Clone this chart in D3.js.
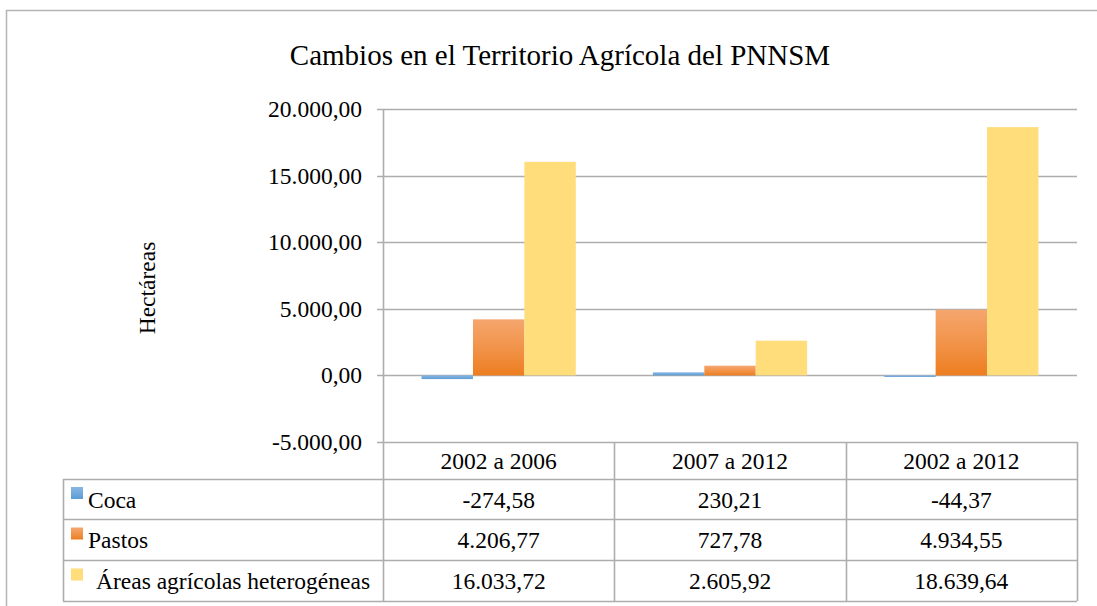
<!DOCTYPE html>
<html>
<head>
<meta charset="utf-8">
<script src="https://cdn.jsdelivr.net/npm/d3@7"></script>
<style>
  html, body { margin: 0; padding: 0; background: #fff; }
  svg { display: block; }
  svg text { font-family: "Liberation Serif", "DejaVu Serif", serif !important; fill: #000; }
</style>
</head>
<body>
<svg id="chart" width="1097" height="606"></svg>
<script>
// ---- data ----
const title = "Cambios en el Territorio Agrícola del PNNSM";
const yAxisTitle = "Hectáreas";
const categories = ["2002 a 2006", "2007 a 2012", "2002 a 2012"];
const seriesNames = ["Coca", "Pastos", "Áreas agrícolas heterogéneas"];
const coca = [-274.58, 230.21, -44.37];
const pastos = [4206.77, 727.78, 4934.55];
const areas = [16033.72, 2605.92, 18639.64];
const yTicks = [-5000, 0, 5000, 10000, 15000, 20000];

const seriesValues = [coca, pastos, areas];

// ---- setup ----
const FONT = "'Liberation Serif', 'DejaVu Serif', serif";
const svg = d3.select("#chart").style("font-family", FONT);
const W = 1097, H = 606;
const plot = { left: 383, right: 1077, top: 109, bottom: 442 };
const gridColor = "#ADADAD";

const loc = d3.formatLocale({ decimal: ",", thousands: ".", grouping: [3], currency: ["", ""], minus: "-" });
const fmt = loc.format(",.2f");

// gradients
const defs = svg.append("defs");
const grads = [
  ["#86B6E2", "#5B9BD5"],
  ["#F5A66E", "#ED7D1F"],
  ["#FFDD7A", "#FFDD7A"]
];
grads.forEach((g, i) => {
  const lg = defs.append("linearGradient").attr("id", "g" + i)
    .attr("x1", 0).attr("y1", 0).attr("x2", 0).attr("y2", 1);
  lg.append("stop").attr("offset", "0%").attr("stop-color", g[0]);
  lg.append("stop").attr("offset", "55%").attr("stop-color", d3.interpolateRgb(g[0], g[1])(0.5));
  lg.append("stop").attr("offset", "100%").attr("stop-color", g[1]);
});

// outer border
svg.append("path")
  .attr("d", `M6.5,${H + 5} V10.5 H${W + 5}`)
  .attr("fill", "none").attr("stroke", "#B5B5B5").attr("stroke-width", 1.5);

// scales
const y = d3.scaleLinear().domain([-5000, 20000]).range([plot.bottom, plot.top]);
const x = d3.scaleBand().domain(categories).range([plot.left, plot.right]).padding(0);
const step = x.bandwidth();
const xs = d3.scaleBand().domain(seriesNames).range([step / 6, step * 5 / 6]).padding(0);

function txt(sel) { return sel.style("font-family", FONT).attr("fill", "#000"); }

// title
txt(svg.append("text")).attr("x", 560).attr("y", 65).attr("text-anchor", "middle")
  .attr("font-size", 29).text(title);

// y axis title
txt(svg.append("text")).attr("transform", `translate(155,288) rotate(-90)`)
  .attr("text-anchor", "middle").attr("font-size", 23.5).text(yAxisTitle);

// gridlines
svg.append("g").selectAll("line").data(yTicks).join("line")
  .attr("x1", plot.left - 6).attr("x2", plot.right)
  .attr("y1", d => Math.round(y(d)) + 0.5).attr("y2", d => Math.round(y(d)) + 0.5)
  .attr("stroke", gridColor).attr("stroke-width", 1.6);

// y axis with labels
const yAxis = d3.axisLeft(y).tickValues(yTicks).tickFormat(fmt).tickSize(0).tickPadding(21);
const ga = svg.append("g").attr("transform", `translate(${plot.left},0)`).call(yAxis)
  .attr("font-family", null).attr("font-size", null);
ga.select(".domain").remove();
txt(ga.selectAll("text")).attr("font-size", 23.5);
svg.append("line").attr("x1", plot.left + 0.5).attr("x2", plot.left + 0.5)
  .attr("y1", plot.top).attr("y2", plot.bottom)
  .attr("stroke", gridColor).attr("stroke-width", 1.6);

// bars
const barData = [];
categories.forEach((c, ci) => seriesNames.forEach((s, si) =>
  barData.push({ c, s, si, v: seriesValues[si][ci] })));
svg.append("g").selectAll("rect").data(barData).join("rect")
  .attr("x", d => x(d.c) + xs(d.s))
  .attr("width", xs.bandwidth())
  .attr("y", d => Math.min(y(d.v), y(0)))
  .attr("height", d => Math.max(1.5, Math.abs(y(d.v) - y(0))))
  .attr("fill", d => `url(#g${d.si})`);

// data table
const tableLeft = 63;
const headerTop = plot.bottom;
const rowTops = [479, 519, 560, 601];
const tbl = svg.append("g").attr("stroke", gridColor).attr("stroke-width", 1.6).attr("fill", "none");
const colEdges = categories.map(c => x(c)).concat([plot.right]);
tbl.selectAll("line.hv").data(colEdges).join("line").attr("class", "hv")
  .attr("x1", d => Math.round(d) + 0.5).attr("x2", d => Math.round(d) + 0.5)
  .attr("y1", headerTop).attr("y2", rowTops[0]);
tbl.selectAll("line.rh").data(rowTops).join("line").attr("class", "rh")
  .attr("x1", tableLeft).attr("x2", plot.right)
  .attr("y1", d => d + 0.5).attr("y2", d => d + 0.5);
tbl.selectAll("line.bv").data([tableLeft].concat(colEdges)).join("line").attr("class", "bv")
  .attr("x1", d => Math.round(d) + 0.5).attr("x2", d => Math.round(d) + 0.5)
  .attr("y1", rowTops[0]).attr("y2", rowTops[3]);

// header text
txt(svg.append("g").selectAll("text").data(categories).join("text"))
  .attr("x", d => x(d) + step / 2).attr("y", (headerTop + rowTops[0]) / 2 + 8.5)
  .attr("text-anchor", "middle").attr("font-size", 23.5).text(d => d);

// rows
seriesNames.forEach((s, si) => {
  const top = rowTops[si], bot = rowTops[si + 1];
  const cy = (top + bot) / 2;
  svg.append("rect").attr("x", 71).attr("y", cy - 12).attr("width", 12).attr("height", 12)
    .attr("fill", `url(#g${si})`);
  txt(svg.append("text")).attr("x", si === 2 ? 96 : 88).attr("y", cy + 8.5)
    .attr("font-size", 23.5).text(s);
  categories.forEach((c, ci) => {
    txt(svg.append("text")).attr("x", x(c) + step / 2).attr("y", cy + 8.5)
      .attr("text-anchor", "middle").attr("font-size", 23.5)
      .text(fmt(seriesValues[si][ci]));
  });
});
</script>
</body>
</html>
